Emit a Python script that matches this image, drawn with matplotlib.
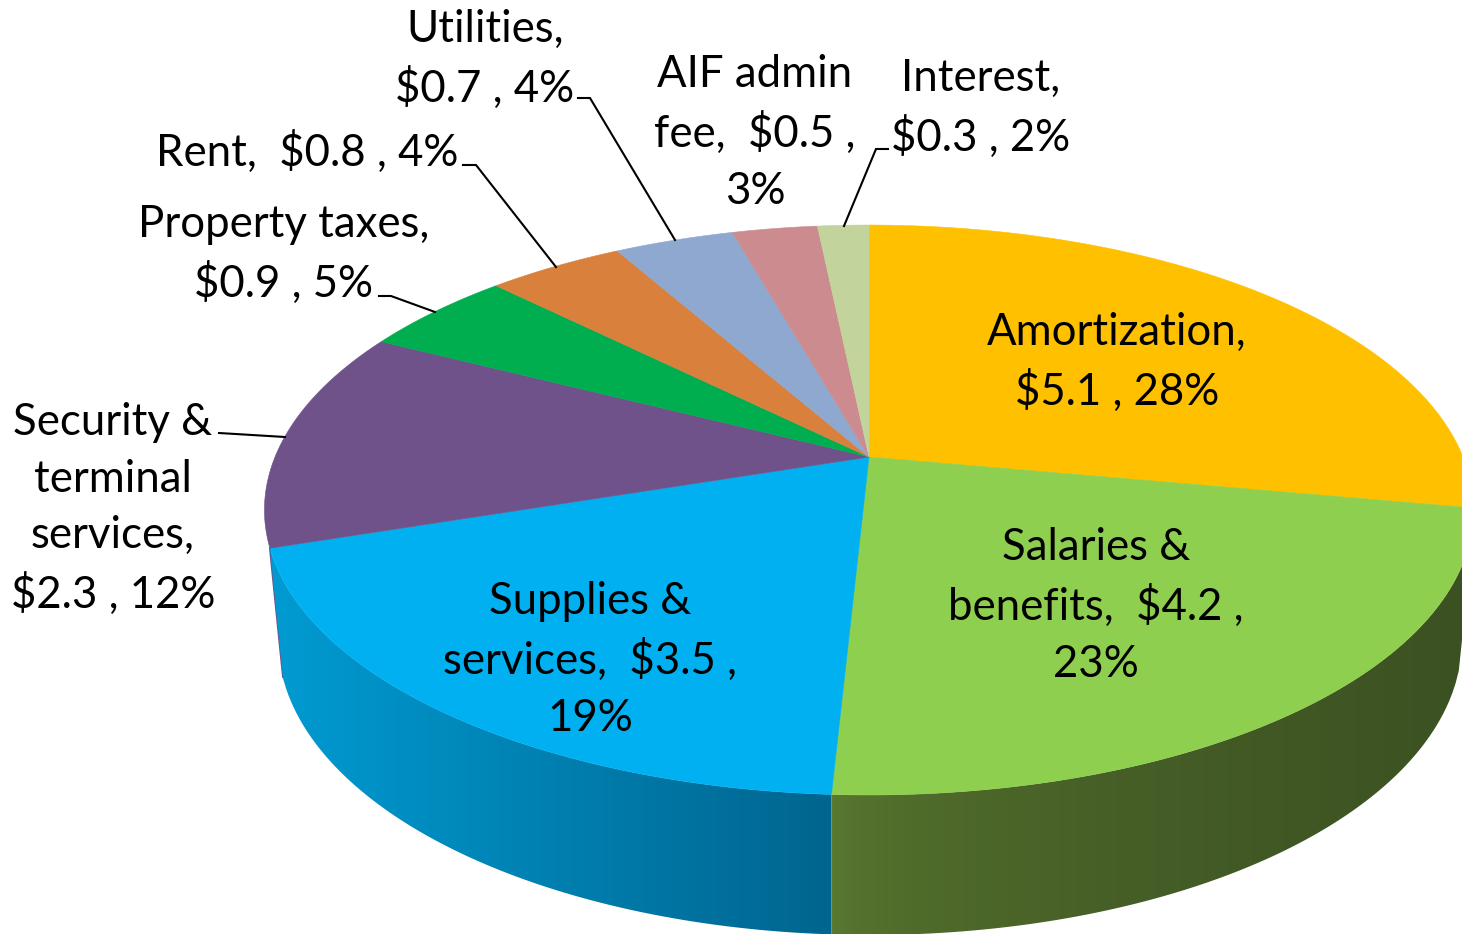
import matplotlib
matplotlib.use('Agg')
import matplotlib.pyplot as plt
import numpy as np
from matplotlib.patches import Polygon

# Data ($ values and shares as printed on the labels)
names = ['Amortization', 'Salaries & benefits', 'Supplies & services',
         'Security & terminal services', 'Property taxes', 'Rent',
         'Utilities', 'AIF admin fee', 'Interest']
values = [5.1, 4.2, 3.5, 2.3, 0.9, 0.8, 0.7, 0.5, 0.3]
label_texts = ['Amortization,\n$5.1 , 28%',
               'Salaries &\nbenefits,  $4.2 ,\n23%',
               'Supplies &\nservices,  $3.5 ,\n19%',
               'Security &\nterminal\nservices,\n$2.3 , 12%',
               'Property taxes,\n$0.9 , 5%',
               'Rent,  $0.8 , 4%',
               'Utilities,\n$0.7 , 4%',
               'AIF admin\nfee,  $0.5 ,\n3%',
               'Interest,\n$0.3 , 2%']
colors = ['#FFC000', '#8FCF4F', '#00B0F0', '#70528A', '#00AE50',
          '#D8803C', '#8FA8CF', '#CC8C8F', '#C2D49B']

# label centres in pixels
label_x = [1117, 1096, 590, 113, 284, 307, 485, 755, 981]
label_y = [362, 606, 660, 509, 254, 152, 59, 133, 108]

# leader lines in pixels (label end, elbow, rim)
leaders = {
    3: ([219, 285], [433, 437]),
    4: ([379, 391, 435], [296, 296, 312]),
    5: ([463, 476, 556], [165, 165, 267]),
    6: ([578, 590, 675], [98, 98, 240]),
    8: ([888, 876, 844], [149, 149, 226]),
}

# Pie geometry, pixels
CX, CY = 869, 457
K, A, C = 0.186, 275.1, 594.0
BOT_X, BOT_Y, BOT_RX, BOT_RY = 870, 640, 592, 295


def rim(deg):
    # perspective projection of the pie rim, deg clockwise from 12 o'clock
    t = np.radians(deg)
    u, v = np.sin(t), np.cos(t)
    w = 1 + K * v
    return CX + C * u / w, CY - A * v / w


def bottom_y(x):
    return BOT_Y + BOT_RY * np.sqrt(np.clip(1 - ((x - BOT_X) / BOT_RX) ** 2, 0, 1))


def wall(ax, start, end, x_end, c_left, c_right, power=1.0):
    # extruded side between two angles, with a left-to-right shading
    tx, ty = rim(np.linspace(start, end, 200))
    bx = np.linspace(x_end[0], x_end[1], 200)
    pts = np.column_stack([np.r_[tx, bx], np.r_[ty, bottom_y(bx)]])
    x0, x1 = min(x_end + [tx.min()]), max(x_end + [tx.max()])
    c0, c1 = np.array(matplotlib.colors.to_rgb(c_left)), np.array(matplotlib.colors.to_rgb(c_right))
    grad = (np.linspace(0, 1, 300) ** power)[None, :, None] * (c1 - c0) + c0
    im = ax.imshow(grad, extent=(x0, x1, 940, 400), aspect='auto', zorder=1, interpolation='bilinear')
    patch = Polygon(pts, closed=True, transform=ax.transData, facecolor='none', edgecolor='none')
    ax.add_patch(patch)
    im.set_clip_path(patch)


fig = plt.figure(figsize=(14.62, 9.34), dpi=100, facecolor='white')
ax = fig.add_axes([0, 0, 1, 1])

plt.rcParams['font.family'] = ['Lato', 'DejaVu Sans']

edges = np.r_[0, np.cumsum(values)] / np.sum(values) * 360

# side walls: supplies and salaries are the only ones in view
sx, sy = rim(edges[2])
lx, ly = rim(edges[3])
ax.plot([lx, 283], [ly, 677], color=colors[3], lw=1.4, zorder=1)
wall(ax, edges[3], edges[2], [sx, 283], '#009BD2', '#00658F')
wall(ax, edges[2], edges[1], [1462, sx], '#5B7B30', '#3C5122', power=0.5)

# top surface
for i in range(len(values)):
    px, py = rim(np.linspace(edges[i], edges[i + 1], 120))
    pts = np.column_stack([np.r_[CX, px], np.r_[CY, py]])
    ax.add_patch(Polygon(pts, closed=True, facecolor=colors[i], edgecolor=colors[i], lw=0.4, zorder=2))

for i, (lxs, lys) in leaders.items():
    ax.plot(lxs, lys, color='black', lw=1.5, zorder=3, solid_joinstyle='miter')

for i in range(len(label_texts)):
    ax.text(label_x[i], label_y[i], label_texts[i], ha='center', va='center', fontsize=31.5,
            linespacing=1.48, color='black', zorder=4)

ax.set_xlim(0, 1462)
ax.set_ylim(934, 0)
ax.axis('off')

plt.savefig('out.png', dpi=100)
